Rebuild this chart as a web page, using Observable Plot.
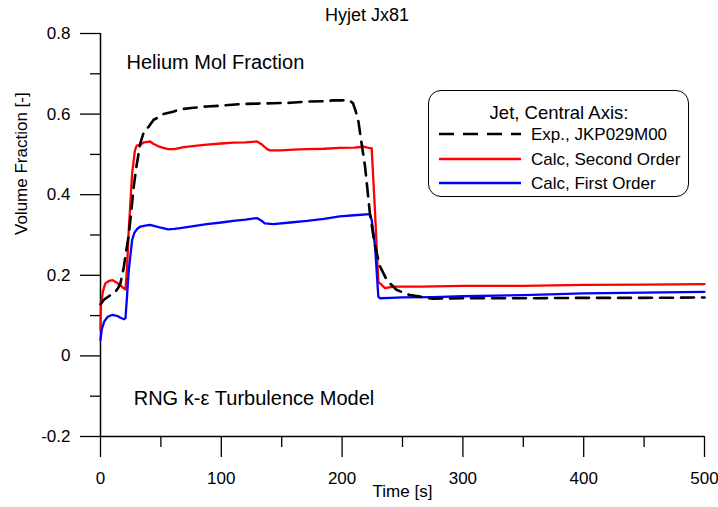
<!DOCTYPE html>
<html>
<head>
<meta charset="utf-8">
<script src="https://cdn.jsdelivr.net/npm/d3@7"></script>
<script src="https://cdn.jsdelivr.net/npm/@observablehq/plot@0.6"></script>
<style>
  body { margin: 0; background: #fff; font-family: "Liberation Sans", Arial, sans-serif; }
  #wrap { position: relative; width: 718px; height: 507px; }
  #title { position: absolute; left: 267px; width: 200px; top: 4px; text-align: center; font-size: 18px; line-height: 22px; }
  #legend { position: absolute; left: 428px; top: 90px; width: 261px; height: 107px; box-sizing: border-box;
            border: 1.5px solid #000; border-radius: 13px; background: #fff; }
  #legend svg { position: absolute; left: -1.5px; top: -1.5px; }
</style>
</head>
<body>
<div id="wrap">
  <div id="title">Hyjet Jx81</div>
</div>
<script>
// ---- data ----
const expTime = [0, 3, 7, 10, 12.4, 14.5, 16.5, 19.3, 21, 23.4, 25.5, 27.5, 30, 33, 35.8, 40, 44, 48, 52, 60, 66, 75, 88, 100, 116, 130, 143, 157, 171, 185, 193, 200, 204, 207, 209, 211, 213.5, 216, 219, 223, 227.3, 231.4, 237, 245, 256, 264.5, 275, 300, 350, 400, 450, 500];
const expValue = [0.128, 0.14, 0.148, 0.155, 0.16, 0.168, 0.18, 0.22, 0.255, 0.300, 0.36, 0.42, 0.475, 0.528, 0.555, 0.569, 0.586, 0.592, 0.600, 0.606, 0.612, 0.615, 0.619, 0.621, 0.625, 0.626, 0.627, 0.628, 0.631, 0.632, 0.634, 0.634, 0.635, 0.632, 0.627, 0.61, 0.582, 0.53, 0.47, 0.354, 0.271, 0.222, 0.188, 0.164, 0.151, 0.147, 0.142, 0.143, 0.143, 0.144, 0.144, 0.145];

const secondTime = [0, 0.4, 2, 4, 7, 10, 13, 16, 19, 20.7, 22, 23.4, 26.2, 28.5, 30, 33, 36, 41, 44, 48, 52, 56, 61, 69, 80, 88, 100, 110, 120, 129.5, 133, 137.5, 140, 149, 160, 171, 185, 198, 210, 217.6, 222, 224.5, 227.3, 230, 235.5, 242.4, 250, 265, 300, 350, 400, 450, 500];
const secondValue = [0.065, 0.126, 0.16, 0.18, 0.186, 0.188, 0.183, 0.176, 0.168, 0.165, 0.22, 0.313, 0.453, 0.51, 0.522, 0.524, 0.530, 0.532, 0.526, 0.520, 0.516, 0.513, 0.513, 0.518, 0.522, 0.524, 0.527, 0.529, 0.530, 0.532, 0.526, 0.514, 0.510, 0.510, 0.512, 0.513, 0.514, 0.516, 0.517, 0.519, 0.516, 0.515, 0.354, 0.184, 0.168, 0.172, 0.172, 0.172, 0.174, 0.174, 0.176, 0.177, 0.178];

const firstTime = [0, 1, 3, 6, 10, 14, 17, 19.5, 20.7, 22, 23.4, 26.2, 28, 30.3, 33, 37, 41, 45, 50, 56, 61, 66, 77, 88, 100, 110, 120, 129.5, 133, 136, 143, 157, 171, 185, 198, 210, 223, 224.5, 227.3, 230, 231.4, 240, 250, 275, 300, 350, 400, 450, 500];
const firstValue = [0.04, 0.065, 0.085, 0.097, 0.102, 0.099, 0.094, 0.091, 0.094, 0.15, 0.213, 0.288, 0.305, 0.315, 0.321, 0.323, 0.325, 0.322, 0.318, 0.314, 0.315, 0.317, 0.322, 0.327, 0.331, 0.335, 0.338, 0.342, 0.336, 0.329, 0.327, 0.331, 0.335, 0.340, 0.346, 0.349, 0.352, 0.337, 0.271, 0.147, 0.143, 0.144, 0.145, 0.146, 0.148, 0.151, 0.155, 0.157, 0.159];

const xMajorTicks = [0, 100, 200, 300, 400, 500];
const xMinorTicks = [50, 150, 250, 350, 450];
const yMajorTicks = [-0.2, 0, 0.2, 0.4, 0.6, 0.8];
const yTickLabels = ["-0.2", "0", "0.2", "0.4", "0.6", "0.8"];
const yMinorTicks = [-0.1, 0.1, 0.3, 0.5, 0.7];

const seriesNames = ["Exp., JKP029M00", "Calc, Second Order", "Calc, First Order"];
const seriesColors = ["#000000", "#ff0000", "#0000ff"];
const legendTitle = "Jet, Central Axis:";

const toRows = (ts, vs) => ts.map((t, i) => ({t, v: vs[i]}));
const expRows = toRows(expTime, expValue);
const secondRows = toRows(secondTime, secondValue);
const firstRows = toRows(firstTime, firstValue);

const FONT = '"Liberation Sans", Arial, sans-serif';

const chart = Plot.plot({
  width: 718,
  height: 507,
  marginLeft: 100,
  marginRight: 14,
  marginTop: 33,
  marginBottom: 71,
  x: {domain: [0, 500]},
  y: {domain: [-0.2, 0.8]},
  style: {fontFamily: FONT, fontSize: "17px", color: "#000", background: "transparent", overflow: "visible"},
  marks: [
    Plot.axisX({ticks: xMajorTicks, tickSize: 21, tickPadding: 14, tickFormat: d => String(d), label: null, strokeWidth: 1.3, fontSize: 17}),
    Plot.axisX({ticks: xMinorTicks, tickSize: 11, tickFormat: () => "", label: null, strokeWidth: 1.3}),
    Plot.axisY({ticks: yMajorTicks, tickSize: 20, tickPadding: 10, tickFormat: d => yTickLabels[yMajorTicks.indexOf(d)], label: null, strokeWidth: 1.3, fontSize: 17}),
    Plot.axisY({ticks: yMinorTicks, tickSize: 10, tickFormat: () => "", label: null, strokeWidth: 1.3}),
    Plot.ruleX([0], {strokeWidth: 1.5}),
    Plot.ruleY([-0.2], {strokeWidth: 1.5}),
    Plot.text(["Volume Fraction [-]"], {frameAnchor: "left", dx: -79, rotate: -90, fontSize: 17}),
    Plot.text(["Time [s]"], {frameAnchor: "bottom", dy: 60, fontSize: 17}),
    Plot.text(["Helium Mol Fraction"], {x: 21.5, y: 0.727, textAnchor: "start", fontSize: 20}),
    Plot.text(["RNG k-\u03b5 Turbulence Model"], {x: 27.5, y: -0.105, textAnchor: "start", fontSize: 20}),
    Plot.line(secondRows, {x: "t", y: "v", stroke: seriesColors[1], strokeWidth: 2.3}),
    Plot.line(firstRows, {x: "t", y: "v", stroke: seriesColors[2], strokeWidth: 2.3}),
    Plot.line(expRows, {x: "t", y: "v", stroke: seriesColors[0], strokeWidth: 2.6, strokeDasharray: "13,8"})
  ]
});
chart.style.position = "absolute";
chart.style.left = "0px";
chart.style.top = "0px";
const wrap = document.getElementById("wrap");
wrap.appendChild(chart);

// legend
const legend = document.createElement("div");
legend.id = "legend";
wrap.appendChild(legend);
const svg = d3.select(legend).append("svg").attr("width", 261).attr("height", 107)
  .style("font-family", FONT).style("font-size", "17px");
svg.append("text").attr("x", 131).attr("y", 29).attr("text-anchor", "middle").style("font-size", "18.5px").text(legendTitle);
const rowY = [44, 69, 93];
seriesNames.forEach((name, i) => {
  svg.append("line").attr("x1", 11).attr("x2", 93).attr("y1", rowY[i]).attr("y2", rowY[i])
    .attr("stroke", seriesColors[i]).attr("stroke-width", i === 0 ? 2.6 : 2.3)
    .attr("stroke-dasharray", i === 0 ? "15,9" : null);
  svg.append("text").attr("x", 103).attr("y", rowY[i] + 6).text(name);
});
</script>
</body>
</html>
